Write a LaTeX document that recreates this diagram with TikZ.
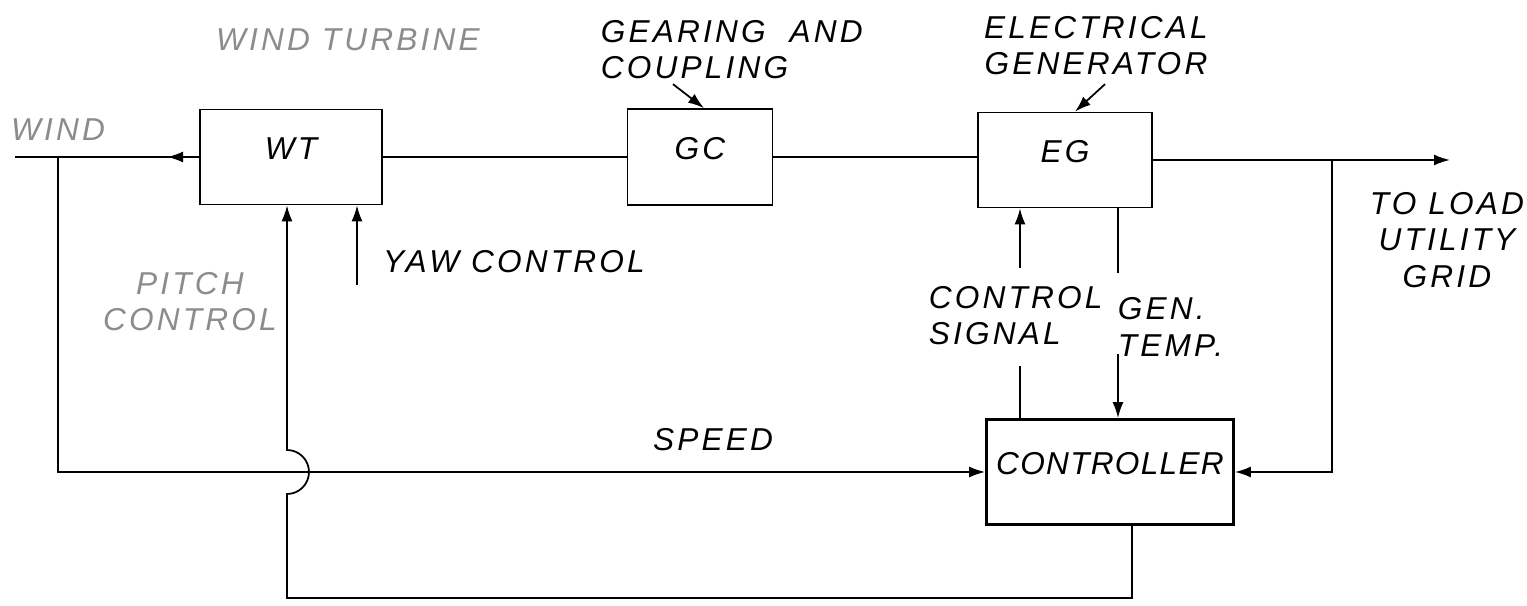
\documentclass[tikz,border=0pt]{standalone}
\usepackage{fontspec}
\setmainfont{Liberation Sans}
\newfontfamily\lettering[LetterSpace=10]{Liberation Sans}
\newfontfamily\tightlettering[LetterSpace=4]{Liberation Sans}
\usetikzlibrary{arrows.meta,calc}
\begin{document}
\begin{tikzpicture}[x=0.1mm, y=-0.1mm, line width=0.5pt,
    lbl/.style={font=\lettering\itshape\fontsize{9}{10.3}\selectfont, inner sep=0pt},
    faint/.style={lbl, text=black!45},
    box/.style={draw, lbl, text height=2.4mm, text depth=1.8mm},
    arr/.style={-{Latex[length=1.6mm,width=1.1mm]}}]
    \useasboundingbox (0,0) rectangle (1527,606);
    % blocks
    \node[box, minimum width=18.2mm, minimum height=9.5mm] (wt) at (291,157) {WT};
    \node[box, minimum width=14.5mm, minimum height=9.6mm] (gc) at (700,157) {GC};
    \node[box, minimum width=17.4mm, minimum height=9.5mm] (eg) at (1065,160) {EG};
    \node[box, minimum width=24.7mm, minimum height=10.5mm, line width=0.8pt,
      font=\tightlettering\itshape\fontsize{9}{11}\selectfont] (ctrl) at (1110,472) {CONTROLLER};
    % labels
    \node[faint] (wtname) at (348,40) {WIND TURBINE};
    \node[faint] (windname) at (58,130) {WIND};
    \node[faint, align=center] (pitchname) at (190,302) {PITCH\\CONTROL};
    \node[lbl] (yawname) at (514,262) {YAW CONTROL};
    \node[lbl] (speedname) at (713,440) {SPEED};
    \node[lbl, align=left, anchor=west] (gcname) at (600,50) {GEARING\ \ AND\\COUPLING};
    \node[lbl, align=center] (egname) at (1096,46) {ELECTRICAL\\GENERATOR};
    \node[lbl, align=left, anchor=west] (csname) at (928,316) {CONTROL\\SIGNAL};
    \node[lbl, align=left, anchor=west] (gtname) at (1117,327) {GEN.\\TEMP.};
    \node[lbl, align=center] (loadname) at (1447,240) {TO LOAD\\UTILITY\\GRID};
    \coordinate (windend) at (15,157);
    \coordinate (windtap) at (58,157);
    \coordinate (yawin) at (357,285);
    \coordinate (gridtap) at (1332,160);
    \coordinate (load) at (1450,160);
    % shaft and power line
    \draw (windend) -- (wt.west);
    \draw[arr] (wt.west) -- ++(-32,0);
    \draw (wt.east) -- (gc.west);
    \draw (gc.east) -- (gc.east -| eg.west);
    \draw[arr] (eg.east) -- (load);
    % feedback
    \draw[arr] (windtap) |- (ctrl.west);
    \draw[arr] (gridtap) |- (ctrl.east);
    \draw[arr] ($(ctrl.south)+(22,0)$) -- ++(0,72) -| (287,494) arc (90:-90:22) -- ($(wt.south)+(-4,0)$);
    \draw[arr] (yawin) -- (yawin |- wt.south);
    \draw ($(ctrl.north)+(-90,0)$) -- ++(0,-52);
    \draw[arr] ($(eg.south)+(-45,60)$) -- ($(eg.south)+(-45,0)$);
    \draw ($(eg.south)+(53,0)$) -- ++(0,65);
    \draw[arr] ($(ctrl.north)+(8,-64)$) -- ($(ctrl.north)+(8,0)$);
    \draw[arr] ($(gcname.south west)+(73,4)$) -- ($(gc.north)+(4,0)$);
    \draw[arr] ($(egname.south)+(9,8)$) -- ($(eg.north)+(10,0)$);
\end{tikzpicture}
\end{document}
